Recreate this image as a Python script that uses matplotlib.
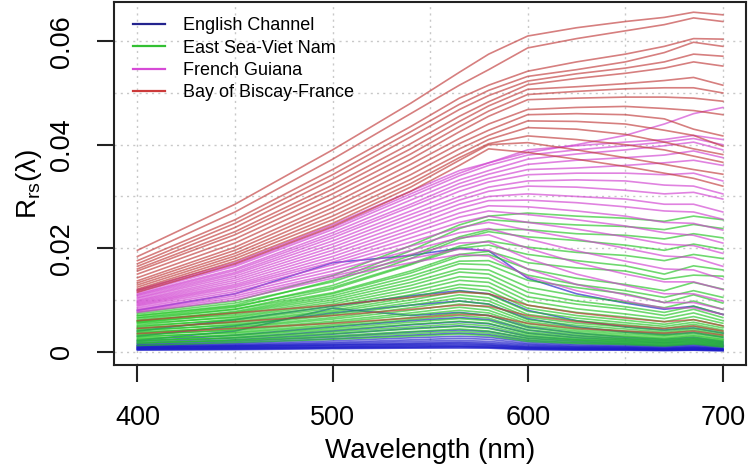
# %% LIBRARY
import numpy as np
import matplotlib
matplotlib.use("Agg")
import matplotlib.pyplot as plt

# %% DATA  (Rrs at these wavelengths)
wavelength = [400, 450, 500, 540, 565, 580, 600, 625, 650, 670, 685, 700]

rrs_english = [
    [0.0080, 0.0112, 0.0172, 0.0186, 0.0200, 0.0195, 0.0142, 0.0112, 0.0094, 0.0082, 0.0088, 0.0072],
    [0.0040, 0.0062, 0.0088, 0.0108, 0.0118, 0.0112, 0.0080, 0.0060, 0.0048, 0.0042, 0.0046, 0.0036],
    [0.0030, 0.0050, 0.0075, 0.0090, 0.0098, 0.0092, 0.0064, 0.0048, 0.0038, 0.0033, 0.0037, 0.0028],
    [0.0022, 0.0040, 0.0084, 0.0070, 0.0076, 0.0070, 0.0048, 0.0036, 0.0028, 0.0024, 0.0028, 0.0020],
    [0.0020, 0.0032, 0.0048, 0.0060, 0.0066, 0.0062, 0.0042, 0.0031, 0.0025, 0.0021, 0.0025, 0.0018],
    [0.0017, 0.0027, 0.0040, 0.0052, 0.0058, 0.0054, 0.0036, 0.0027, 0.0022, 0.0018, 0.0022, 0.0016],
    [0.0015, 0.0023, 0.0034, 0.0045, 0.0050, 0.0046, 0.0030, 0.0023, 0.0019, 0.0016, 0.0019, 0.0014],
    [0.0013, 0.0020, 0.0029, 0.0038, 0.0042, 0.0039, 0.0026, 0.0020, 0.0016, 0.0013, 0.0016, 0.0012],
    [0.0012, 0.0017, 0.0025, 0.0032, 0.0036, 0.0033, 0.0022, 0.0017, 0.0014, 0.0011, 0.0014, 0.0010],
    [0.0011, 0.0015, 0.0021, 0.0027, 0.0030, 0.0028, 0.0019, 0.0014, 0.0012, 0.0010, 0.0012, 0.0009],
    [0.0010, 0.0013, 0.0018, 0.0023, 0.0026, 0.0024, 0.0016, 0.0012, 0.0010, 0.0008, 0.0010, 0.0007],
    [0.0009, 0.0012, 0.0016, 0.0020, 0.0022, 0.0020, 0.0014, 0.0010, 0.0009, 0.0007, 0.0009, 0.0006],
    [0.0008, 0.0011, 0.0014, 0.0017, 0.0019, 0.0017, 0.0012, 0.0009, 0.0008, 0.0006, 0.0008, 0.0005],
    [0.0008, 0.0010, 0.0013, 0.0015, 0.0017, 0.0015, 0.0010, 0.0008, 0.0007, 0.0005, 0.0007, 0.0005],
    [0.0007, 0.0009, 0.0012, 0.0014, 0.0015, 0.0013, 0.0009, 0.0007, 0.0006, 0.0005, 0.0006, 0.0004],
    [0.0006, 0.0008, 0.0010, 0.0012, 0.0013, 0.0012, 0.0008, 0.0006, 0.0005, 0.0004, 0.0005, 0.0004],
    [0.0005, 0.0007, 0.0009, 0.0011, 0.0011, 0.0010, 0.0007, 0.0005, 0.0005, 0.0004, 0.0005, 0.0003],
    [0.0005, 0.0006, 0.0008, 0.0009, 0.0010, 0.0009, 0.0006, 0.0005, 0.0004, 0.0003, 0.0004, 0.0003],
    [0.0004, 0.0005, 0.0007, 0.0008, 0.0009, 0.0008, 0.0005, 0.0004, 0.0004, 0.0003, 0.0003, 0.0002],
    [0.0003, 0.0004, 0.0006, 0.0007, 0.0007, 0.0007, 0.0004, 0.0003, 0.0003, 0.0002, 0.0003, 0.0002],
]

rrs_vietnam = [
    [0.0076, 0.0098, 0.0147, 0.0205, 0.0245, 0.0262, 0.0268, 0.0262, 0.0258, 0.0252, 0.0262, 0.0255],
    [0.0070, 0.0090, 0.0138, 0.0195, 0.0238, 0.0255, 0.0250, 0.0245, 0.0242, 0.0236, 0.0246, 0.0238],
    [0.0073, 0.0094, 0.0135, 0.0186, 0.0222, 0.0236, 0.0236, 0.0228, 0.0225, 0.0218, 0.0228, 0.0220],
    [0.0066, 0.0086, 0.0128, 0.0180, 0.0218, 0.0232, 0.0222, 0.0215, 0.0206, 0.0196, 0.0208, 0.0198],
    [0.0069, 0.0088, 0.0124, 0.0170, 0.0204, 0.0214, 0.0202, 0.0192, 0.0186, 0.0176, 0.0188, 0.0180],
    [0.0062, 0.0082, 0.0121, 0.0168, 0.0200, 0.0206, 0.0188, 0.0176, 0.0166, 0.0150, 0.0166, 0.0158],
    [0.0065, 0.0082, 0.0114, 0.0156, 0.0188, 0.0194, 0.0172, 0.0162, 0.0156, 0.0140, 0.0148, 0.0146],
    [0.0059, 0.0078, 0.0112, 0.0152, 0.0184, 0.0188, 0.0160, 0.0142, 0.0130, 0.0118, 0.0134, 0.0121],
    [0.0060, 0.0076, 0.0108, 0.0146, 0.0175, 0.0176, 0.0148, 0.0130, 0.0118, 0.0105, 0.0118, 0.0105],
    [0.0056, 0.0074, 0.0104, 0.0140, 0.0170, 0.0168, 0.0138, 0.0124, 0.0112, 0.0095, 0.0110, 0.0094],
    [0.0058, 0.0071, 0.0100, 0.0134, 0.0160, 0.0158, 0.0125, 0.0108, 0.0096, 0.0085, 0.0098, 0.0082],
    [0.0052, 0.0068, 0.0096, 0.0128, 0.0154, 0.0150, 0.0115, 0.0098, 0.0087, 0.0076, 0.0088, 0.0072],
    [0.0055, 0.0066, 0.0092, 0.0122, 0.0145, 0.0142, 0.0106, 0.0092, 0.0082, 0.0070, 0.0082, 0.0066],
    [0.0048, 0.0063, 0.0088, 0.0116, 0.0138, 0.0134, 0.0098, 0.0083, 0.0073, 0.0064, 0.0075, 0.0060],
    [0.0050, 0.0061, 0.0084, 0.0110, 0.0130, 0.0126, 0.0090, 0.0076, 0.0067, 0.0058, 0.0068, 0.0055],
    [0.0044, 0.0058, 0.0080, 0.0105, 0.0124, 0.0118, 0.0084, 0.0070, 0.0061, 0.0053, 0.0062, 0.0050],
    [0.0046, 0.0056, 0.0077, 0.0100, 0.0117, 0.0111, 0.0078, 0.0065, 0.0056, 0.0049, 0.0057, 0.0046],
    [0.0040, 0.0053, 0.0073, 0.0095, 0.0110, 0.0104, 0.0072, 0.0060, 0.0052, 0.0045, 0.0053, 0.0042],
    [0.0042, 0.0051, 0.0070, 0.0090, 0.0104, 0.0098, 0.0067, 0.0055, 0.0048, 0.0041, 0.0049, 0.0039],
    [0.0036, 0.0048, 0.0066, 0.0085, 0.0098, 0.0092, 0.0062, 0.0051, 0.0044, 0.0038, 0.0045, 0.0036],
    [0.0038, 0.0046, 0.0063, 0.0080, 0.0092, 0.0086, 0.0058, 0.0047, 0.0040, 0.0035, 0.0042, 0.0033],
    [0.0032, 0.0043, 0.0059, 0.0075, 0.0086, 0.0080, 0.0054, 0.0043, 0.0037, 0.0032, 0.0038, 0.0030],
    [0.0034, 0.0041, 0.0056, 0.0071, 0.0080, 0.0075, 0.0050, 0.0040, 0.0034, 0.0030, 0.0035, 0.0028],
    [0.0028, 0.0038, 0.0052, 0.0066, 0.0075, 0.0070, 0.0046, 0.0037, 0.0031, 0.0027, 0.0032, 0.0025],
    [0.0030, 0.0036, 0.0049, 0.0062, 0.0070, 0.0065, 0.0042, 0.0034, 0.0029, 0.0025, 0.0030, 0.0023],
    [0.0024, 0.0033, 0.0045, 0.0057, 0.0064, 0.0060, 0.0038, 0.0031, 0.0026, 0.0023, 0.0027, 0.0021],
    [0.0026, 0.0031, 0.0042, 0.0053, 0.0059, 0.0055, 0.0035, 0.0028, 0.0024, 0.0021, 0.0025, 0.0019],
    [0.0020, 0.0028, 0.0038, 0.0048, 0.0054, 0.0050, 0.0032, 0.0025, 0.0022, 0.0019, 0.0023, 0.0017],
    [0.0022, 0.0026, 0.0035, 0.0044, 0.0049, 0.0045, 0.0029, 0.0023, 0.0020, 0.0017, 0.0021, 0.0015],
    [0.0016, 0.0023, 0.0031, 0.0039, 0.0044, 0.0040, 0.0026, 0.0021, 0.0018, 0.0015, 0.0019, 0.0013],
    [0.0018, 0.0021, 0.0028, 0.0035, 0.0039, 0.0036, 0.0023, 0.0018, 0.0016, 0.0013, 0.0017, 0.0011],
    [0.0012, 0.0018, 0.0024, 0.0030, 0.0034, 0.0031, 0.0020, 0.0016, 0.0014, 0.0011, 0.0015, 0.0009],
]

rrs_guiana = [
    [0.0120, 0.0172, 0.0245, 0.0310, 0.0350, 0.0365, 0.0385, 0.0400, 0.0418, 0.0440, 0.0460, 0.0472],
    [0.0118, 0.0168, 0.0240, 0.0305, 0.0345, 0.0365, 0.0390, 0.0398, 0.0405, 0.0410, 0.0418, 0.0410],
    [0.0115, 0.0165, 0.0236, 0.0300, 0.0340, 0.0360, 0.0380, 0.0390, 0.0398, 0.0405, 0.0412, 0.0400],
    [0.0112, 0.0160, 0.0230, 0.0293, 0.0332, 0.0350, 0.0372, 0.0382, 0.0390, 0.0398, 0.0405, 0.0390],
    [0.0110, 0.0157, 0.0225, 0.0285, 0.0325, 0.0343, 0.0362, 0.0370, 0.0375, 0.0380, 0.0388, 0.0375],
    [0.0108, 0.0153, 0.0220, 0.0280, 0.0318, 0.0335, 0.0352, 0.0355, 0.0360, 0.0365, 0.0370, 0.0360],
    [0.0105, 0.0150, 0.0214, 0.0272, 0.0310, 0.0328, 0.0342, 0.0345, 0.0345, 0.0342, 0.0345, 0.0330],
    [0.0103, 0.0146, 0.0208, 0.0265, 0.0300, 0.0318, 0.0330, 0.0332, 0.0330, 0.0322, 0.0320, 0.0305],
    [0.0100, 0.0142, 0.0202, 0.0258, 0.0293, 0.0310, 0.0320, 0.0318, 0.0312, 0.0305, 0.0308, 0.0295],
    [0.0098, 0.0138, 0.0196, 0.0250, 0.0285, 0.0300, 0.0305, 0.0300, 0.0295, 0.0285, 0.0285, 0.0270],
    [0.0096, 0.0134, 0.0190, 0.0242, 0.0277, 0.0292, 0.0293, 0.0288, 0.0280, 0.0272, 0.0270, 0.0256],
    [0.0094, 0.0130, 0.0184, 0.0235, 0.0268, 0.0282, 0.0280, 0.0272, 0.0262, 0.0250, 0.0248, 0.0235],
    [0.0092, 0.0127, 0.0178, 0.0228, 0.0260, 0.0272, 0.0265, 0.0255, 0.0243, 0.0230, 0.0225, 0.0210],
    [0.0090, 0.0124, 0.0173, 0.0220, 0.0250, 0.0262, 0.0250, 0.0237, 0.0222, 0.0208, 0.0205, 0.0190],
    [0.0088, 0.0120, 0.0168, 0.0212, 0.0240, 0.0250, 0.0235, 0.0218, 0.0200, 0.0185, 0.0182, 0.0165],
    [0.0085, 0.0116, 0.0162, 0.0204, 0.0230, 0.0238, 0.0218, 0.0195, 0.0175, 0.0160, 0.0158, 0.0140],
    [0.0082, 0.0112, 0.0156, 0.0196, 0.0220, 0.0226, 0.0200, 0.0172, 0.0150, 0.0135, 0.0135, 0.0120],
    [0.0080, 0.0108, 0.0150, 0.0188, 0.0210, 0.0212, 0.0180, 0.0150, 0.0128, 0.0112, 0.0112, 0.0098],
    [0.0078, 0.0104, 0.0146, 0.0180, 0.0198, 0.0196, 0.0160, 0.0130, 0.0110, 0.0095, 0.0095, 0.0082],
    [0.0076, 0.0100, 0.0142, 0.0172, 0.0188, 0.0185, 0.0145, 0.0118, 0.0098, 0.0084, 0.0085, 0.0072],
]

rrs_biscay = [
    [0.0196, 0.0285, 0.0390, 0.0480, 0.0540, 0.0575, 0.0610, 0.0626, 0.0638, 0.0646, 0.0656, 0.0651],
    [0.0184, 0.0270, 0.0372, 0.0460, 0.0515, 0.0545, 0.0587, 0.0605, 0.0620, 0.0632, 0.0645, 0.0638],
    [0.0176, 0.0255, 0.0352, 0.0435, 0.0490, 0.0515, 0.0542, 0.0560, 0.0575, 0.0590, 0.0605, 0.0604],
    [0.0170, 0.0248, 0.0342, 0.0425, 0.0478, 0.0505, 0.0532, 0.0545, 0.0560, 0.0578, 0.0598, 0.0590],
    [0.0165, 0.0240, 0.0333, 0.0415, 0.0468, 0.0495, 0.0523, 0.0537, 0.0548, 0.0560, 0.0575, 0.0571],
    [0.0160, 0.0232, 0.0322, 0.0402, 0.0455, 0.0483, 0.0516, 0.0528, 0.0538, 0.0548, 0.0560, 0.0552],
    [0.0156, 0.0226, 0.0314, 0.0392, 0.0445, 0.0475, 0.0507, 0.0512, 0.0518, 0.0524, 0.0530, 0.0515],
    [0.0150, 0.0218, 0.0305, 0.0382, 0.0435, 0.0465, 0.0497, 0.0503, 0.0508, 0.0510, 0.0510, 0.0500],
    [0.0143, 0.0210, 0.0296, 0.0372, 0.0425, 0.0455, 0.0487, 0.0490, 0.0492, 0.0492, 0.0490, 0.0484],
    [0.0137, 0.0202, 0.0286, 0.0362, 0.0412, 0.0440, 0.0468, 0.0472, 0.0474, 0.0470, 0.0466, 0.0458],
    [0.0133, 0.0196, 0.0278, 0.0352, 0.0402, 0.0428, 0.0458, 0.0460, 0.0458, 0.0450, 0.0430, 0.0417],
    [0.0129, 0.0190, 0.0270, 0.0342, 0.0392, 0.0418, 0.0446, 0.0445, 0.0440, 0.0428, 0.0418, 0.0397],
    [0.0125, 0.0185, 0.0262, 0.0333, 0.0382, 0.0410, 0.0433, 0.0430, 0.0420, 0.0405, 0.0392, 0.0381],
    [0.0121, 0.0180, 0.0255, 0.0325, 0.0375, 0.0402, 0.0417, 0.0410, 0.0400, 0.0390, 0.0378, 0.0366],
    [0.0118, 0.0175, 0.0248, 0.0318, 0.0370, 0.0400, 0.0404, 0.0390, 0.0375, 0.0362, 0.0352, 0.0343],
    [0.0115, 0.0170, 0.0242, 0.0310, 0.0360, 0.0392, 0.0385, 0.0372, 0.0358, 0.0345, 0.0335, 0.0320],
    [0.0060, 0.0075, 0.0090, 0.0105, 0.0115, 0.0112, 0.0090, 0.0075, 0.0065, 0.0058, 0.0062, 0.0050],
    [0.0045, 0.0058, 0.0070, 0.0082, 0.0090, 0.0088, 0.0070, 0.0058, 0.0050, 0.0045, 0.0050, 0.0040],
    [0.0035, 0.0045, 0.0055, 0.0065, 0.0072, 0.0070, 0.0055, 0.0045, 0.0040, 0.0036, 0.0040, 0.0032],
]

regions = ["English Channel", "East Sea-Viet Nam", "French Guiana", "Bay of Biscay-France"]
region_data = [rrs_english, rrs_vietnam, rrs_guiana, rrs_biscay]
line_colors = ["#1c1cc8", "#22c422", "#d040d0", "#c03a3a"]
legend_colors = ["#23238e", "#33c033", "#d64ad6", "#cc3a3a"]
draw_order = [0, 1, 2, 3]   # blue at the bottom of the stack, green over it

# %% PLOT
plt.rcParams["font.family"] = ["Liberation Sans", "DejaVu Sans"]

fig = plt.figure(figsize=(7.5, 4.67), dpi=100)
ax = fig.add_axes([0.152, 0.218, 0.843, 0.778])

# grid first
for gx in [400, 450, 500, 550, 600, 650, 700]:
    ax.axvline(gx, color="#c8c8c8", ls=(0, (1.5, 3)), lw=1.0, zorder=0)
for gy in [0, 0.01, 0.02, 0.03, 0.04, 0.05, 0.06]:
    ax.axhline(gy, color="#c8c8c8", ls=(0, (1.5, 3)), lw=1.0, zorder=0)

wl = np.array(wavelength)
for i in draw_order:
    ax.plot(wl, np.array(region_data[i]).T, color=line_colors[i],
            lw=1.2, alpha=0.65, zorder=2)

# legend proxies
handles = [plt.Line2D([], [], color=c, lw=1.6) for c in legend_colors]
ax.legend(handles, regions, loc="upper left", bbox_to_anchor=(0.018, 0.978),
          frameon=False, fontsize=13, handlelength=1.8, handletextpad=1.0,
          labelspacing=0.3, borderaxespad=0.0)

ax.set_xlim(388, 712)
ax.set_ylim(-0.0026, 0.0676)
ax.set_xticks([400, 500, 600, 700])
ax.set_yticks([0, 0.02, 0.04, 0.06])
ax.set_yticklabels(["0", "0.02", "0.04", "0.06"], rotation=90, va="center")
ax.tick_params(axis="both", direction="out", length=12, width=1.5,
               labelsize=19.5, color="#222222")
ax.tick_params(axis="x", pad=17)
ax.tick_params(axis="y", pad=16)
for sp in ax.spines.values():
    sp.set_linewidth(1.5)
    sp.set_color("#222222")

ax.set_xlabel("Wavelength (nm)", fontsize=20, labelpad=5)
ax.set_ylabel(r"$\mathregular{R_{rs}(λ)}$", fontsize=20, labelpad=4)

fig.savefig("out.png", dpi=100)
